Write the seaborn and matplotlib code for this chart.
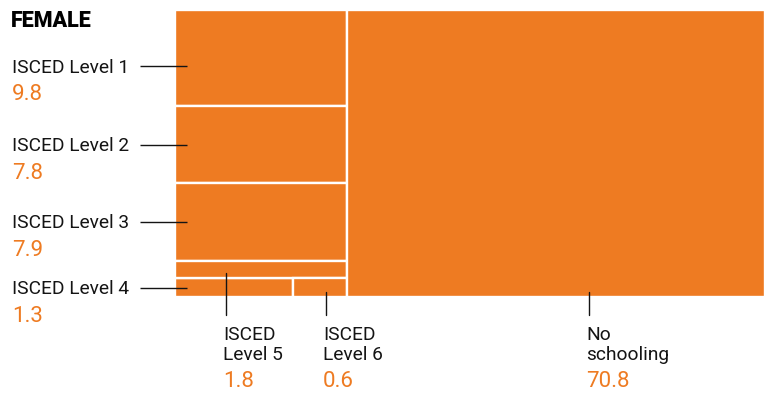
import matplotlib
matplotlib.use("Agg")
import matplotlib.pyplot as plt
from matplotlib.patches import Rectangle
import seaborn as sns

# data: share of female population by education level (%)
labels = ["ISCED Level 1", "ISCED Level 2", "ISCED Level 3", "ISCED Level 4",
          "ISCED Level 5", "ISCED Level 6", "No schooling"]
values = [9.8, 7.8, 7.9, 1.3, 1.8, 0.6, 70.8]
title = "FEMALE"

ORANGE = "#EE7B22"
INK = "#141414"
LABEL_FONT = ["Roboto", "DejaVu Sans"]
VALUE_FONT = ["Roboto", "DejaVu Sans"]

sns.set_theme(style="white")

# nested slice-and-dice layout ('h' = side by side, 'v' = stacked), leaves are indices
layout = ("h", [("v", [0, 1, 2, ("v", [4, ("h", [3, 5])])]), 6])


def total(node):
    if isinstance(node, int):
        return values[node]
    return sum(total(c) for c in node[1])


def slice_layout(node, x, y, w, h, out):
    if isinstance(node, int):
        out[node] = (x, y, w, h)
        return
    direction, children = node
    s = total(node)
    pos = 0.0
    for c in children:
        frac = total(c) / s
        if direction == "h":
            slice_layout(c, x + pos * w, y, frac * w, h, out)
        else:
            slice_layout(c, x, y + pos * h, w, frac * h, out)
        pos += frac


cells = {}
slice_layout(layout, 0.0, 0.0, 1.0, 1.0, cells)

W, H = 764, 394
fig = plt.figure(figsize=(W / 100, H / 100), dpi=100)
ax = fig.add_axes([175 / W, 1 - 297 / H, 590 / W, 287 / H])
ax.set_xlim(0, 1)
ax.set_ylim(1, 0)
ax.axis("off")

for i in range(len(values)):
    x, y, w, h = cells[i]
    ax.add_patch(Rectangle((x, y), w, h, facecolor=ORANGE, edgecolor="white",
                           linewidth=1.7))

# overlay in pixel coordinates for annotations
ov = fig.add_axes([0, 0, 1, 1])
ov.set_xlim(0, W)
ov.set_ylim(H, 0)
ov.axis("off")
fig.canvas.draw()


def to_px(x, y):
    d = ax.transData.transform((x, y))
    return ov.transData.inverted().transform(d)


LBL = 13.8
VAL = 16

ov.text(11, 27, title, fontsize=15.5, fontweight="heavy", color="black",
        family=["Roboto", "DejaVu Sans"], va="baseline", ha="left")

# left side labels (levels 1-4)
prev_y = 27 + 39
for i in [0, 1, 2, 3]:
    x, y, w, h = cells[i]
    left, top = to_px(x, y)
    _, bottom = to_px(x, y + h)
    ly = max((top + bottom) / 2, prev_y)
    ov.plot([140, left + 12], [ly, ly], color=INK, lw=1.0, solid_capstyle="butt")
    ov.text(12, ly + 6.5, labels[i], fontsize=LBL, color=INK, family=LABEL_FONT,
            va="baseline", ha="left")
    ov.text(12, ly + 34, f"{values[i]:.1f}", fontsize=VAL, color=ORANGE,
            family=VALUE_FONT, va="baseline", ha="left")

# bottom labels (level 5, level 6, no schooling)
bottom_x = {4: 223, 5: 323, 6: 586}
for i, lx in bottom_x.items():
    x, y, w, h = cells[i]
    _, cb = to_px(x, y + h)
    ov.plot([lx + 3, lx + 3], [cb - 5.5, 315], color=INK, lw=1.0)
    parts = labels[i].split(" ", 1)
    ov.text(lx, 340, parts[0], fontsize=LBL, color=INK, family=LABEL_FONT,
            va="baseline", ha="left")
    ov.text(lx, 360, parts[1], fontsize=LBL, color=INK, family=LABEL_FONT,
            va="baseline", ha="left")
    ov.text(lx, 387, f"{values[i]:.1f}", fontsize=VAL, color=ORANGE,
            family=VALUE_FONT, va="baseline", ha="left")

fig.savefig("out.png", dpi=100)
